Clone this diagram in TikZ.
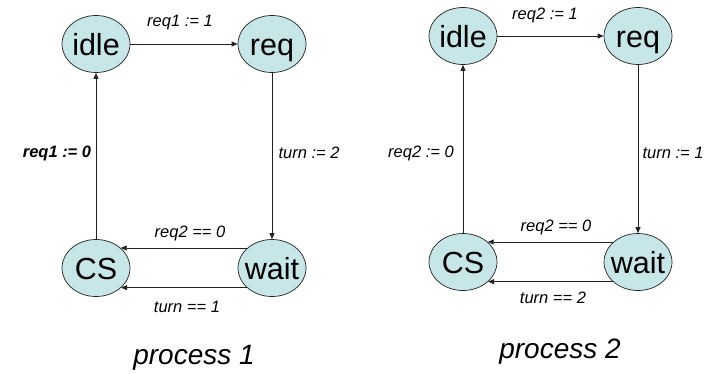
\documentclass[tikz,border=0pt]{standalone}
\usepackage{fontspec}
\setmainfont{Liberation Sans}
\usetikzlibrary{positioning,arrows.meta,shapes.geometric}
\definecolor{statefill}{HTML}{C6E6E8}
\definecolor{ink}{HTML}{222222}

\begin{document}
\begin{tikzpicture}[
  x=1pt, y=-1pt,
  state/.style={ellipse, draw=ink, fill=statefill, line width=0.7pt, minimum width=68pt, minimum height=57pt, inner xsep=-5pt, inner ysep=0pt, text height=22pt, text depth=0pt, font=\fontsize{30.5}{32}\selectfont},
  arrow/.style={-{Triangle[length=6pt,width=5pt]}, color=ink, line width=0.7pt},
  lbl/.style={font=\fontsize{16.5}{19}\selectfont\itshape, inner sep=0pt},
  caption/.style={font=\fontsize{28}{32}\selectfont\itshape, inner sep=0pt},
]
\useasboundingbox (0,0) rectangle (708,373);
% process 1
\node[state] (idleA) at (96,44) {idle};
\node[state] (reqA) at (272,44) {req};
\node[state] (csA) at (96,268) {CS};
\node[state] (waitA) at (272,268) {wait};
\draw[arrow] (idleA) -- (reqA);
\draw[arrow] (reqA) -- (waitA);
\draw[arrow] (waitA.141) -- (csA.39);
\draw[arrow] (waitA.218) -- (csA.-38);
\draw[arrow] (csA) -- (idleA);
\node[lbl] (setA) at (180,23) {req1 := 1};
\node[lbl] (turnA) at (309,153) {turn := 2};
\node[lbl] (resetA) at (57,153) {\bfseries req1 := 0};
\node[lbl] (guardA) at (190,233) {req2 == 0};
\node[lbl] (waitturnA) at (187,307) {turn == 1};
\node[caption] (procA) at (194,358) {process 1};
% process 2
\node[state] (idleB) at (463,36) {idle};
\node[state] (reqB) at (638,36) {req};
\node[state] (csB) at (463,262) {CS};
\node[state] (waitB) at (638,262) {wait};
\draw[arrow] (idleB) -- (reqB);
\draw[arrow] (reqB) -- (waitB);
\draw[arrow] (waitB.141) -- (csB.39);
\draw[arrow] (waitB.218) -- (csB.-38);
\draw[arrow] (csB) -- (idleB);
\node[lbl] (setB) at (545,15) {req2 := 1};
\node[lbl] (turnB) at (673,153) {turn := 1};
\node[lbl] (resetB) at (421,153) {req2 := 0};
\node[lbl] (guardB) at (556,227) {req2 == 0};
\node[lbl] (waitturnB) at (553,298) {turn == 2};
\node[caption] (procB) at (560,352) {process 2};
\end{tikzpicture}
\end{document}
